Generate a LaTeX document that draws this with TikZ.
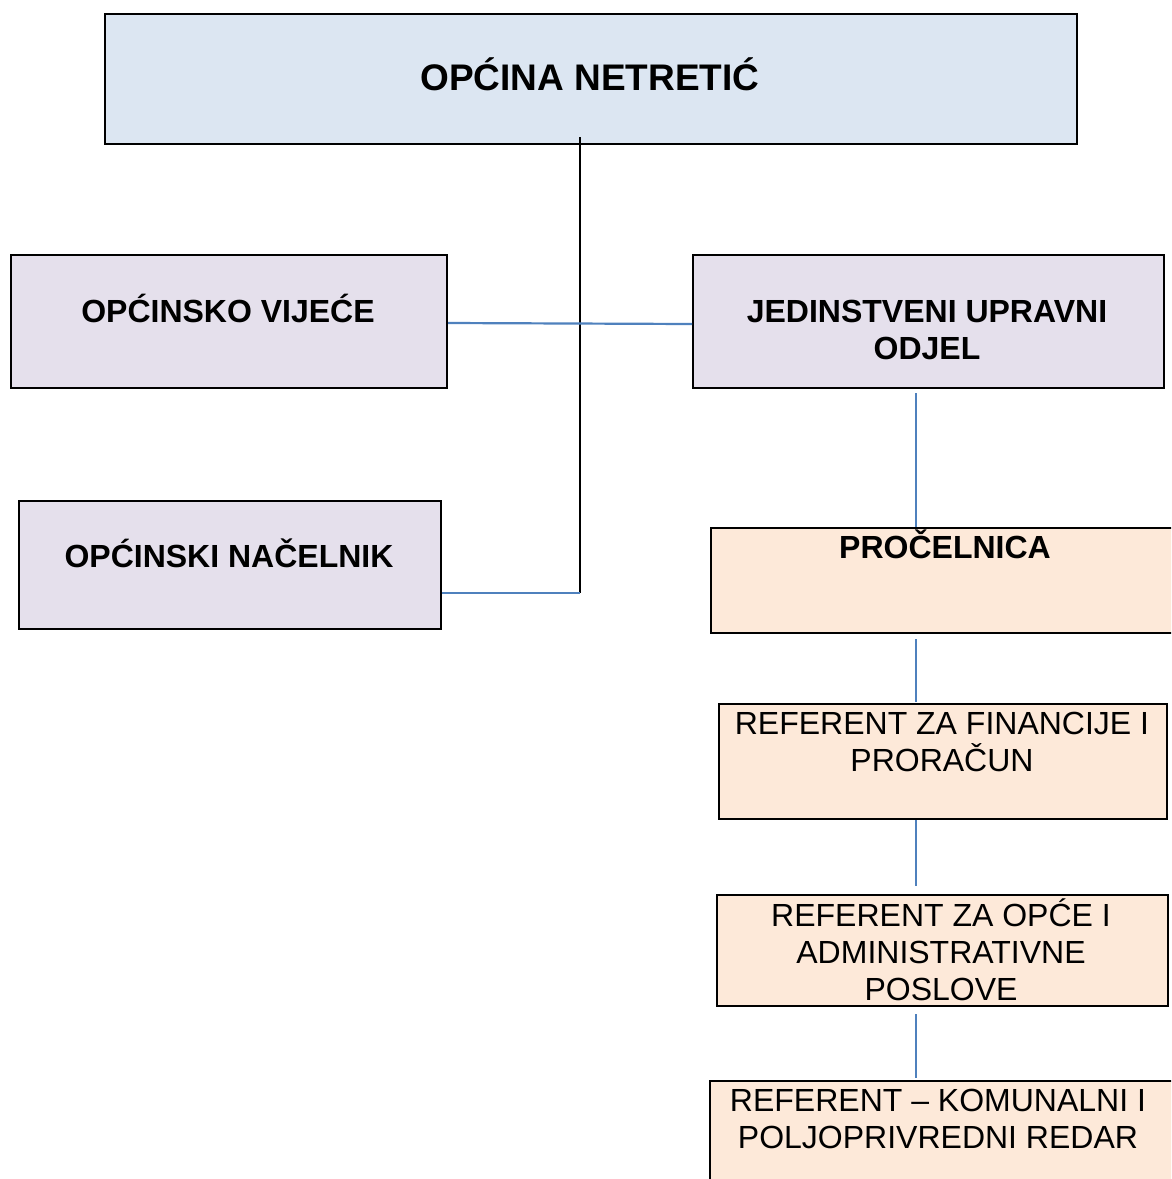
\documentclass[tikz,border=0pt]{standalone}
\usepackage{fontspec}
\setmainfont{Liberation Sans}
\definecolor{topfill}{HTML}{DCE6F2}
\definecolor{lilac}{HTML}{E5E0EC}
\definecolor{peach}{HTML}{FDE9D9}
\definecolor{lineblue}{HTML}{4F81BD}
\tikzset{
  box/.style={draw=black, line width=2pt, anchor=north west, inner sep=0pt},
  btxt/.style={font=\fontsize{32}{37}\selectfont\bfseries, align=center, inner sep=0pt},
  rtxt/.style={font=\fontsize{32}{37}\selectfont, align=center, inner sep=0pt},
  bline/.style={draw=lineblue, line width=2.2pt},
  kline/.style={draw=black, line width=2pt},
}
\begin{document}
\begin{tikzpicture}[x=1pt,y=-1pt]
\useasboundingbox (0,0) rectangle (1171,1179);
\clip (0,0) rectangle (1171,1179);
% boxes
\node[box, fill=topfill, minimum width=972pt, minimum height=130pt] (top) at (104,13) {};
\node[box, fill=lilac, minimum width=436pt, minimum height=133pt] (vij) at (10,254) {};
\node[box, fill=lilac, minimum width=471pt, minimum height=133pt] (juo) at (692,254) {};
\node[box, fill=lilac, minimum width=422pt, minimum height=128pt] (nac) at (18,500) {};
\node[box, fill=peach, minimum width=470pt, minimum height=105pt] (proc) at (710,527) {};
\node[box, fill=peach, minimum width=448pt, minimum height=115pt] (fin) at (718,703) {};
\node[box, fill=peach, minimum width=451pt, minimum height=111pt] (opc) at (716,894) {};
\node[box, fill=peach, minimum width=470pt, minimum height=120pt] (kom) at (709,1080) {};
% texts
\node[btxt, font=\fontsize{37}{44}\selectfont\bfseries, anchor=base] (ttop) at (590,90) {OPĆINA NETRETIĆ};
\node[btxt, anchor=base] (tvij) at (228,322) {OPĆINSKO VIJEĆE};
\node[btxt] (tjuo) at (927,330) {JEDINSTVENI UPRAVNI\\ODJEL};
\node[btxt, anchor=base] (tnac) at (229,567) {OPĆINSKI NAČELNIK};
\node[btxt, anchor=base] (tproc) at (945,558) {PROČELNICA};
\node[rtxt] (tfin) at (942,742) {REFERENT ZA FINANCIJE I\\PRORAČUN};
\node[rtxt] (topc) at (941,950) {REFERENT ZA OPĆE I\\ADMINISTRATIVNE\\POSLOVE};
\node[rtxt] (tkom) at (938,1119) {REFERENT – KOMUNALNI I\\POLJOPRIVREDNI REDAR};
% connectors
\coordinate (j1) at (580,593);
\coordinate (cx) at (916,0);
\draw[kline] ([yshift=8pt]top.south -| j1) -- (j1);
\draw[bline] (j1) -- (nac.east |- j1);
\draw[bline] (vij.east |- 0,323) -- (juo.west |- 0,324);
\draw[bline] (juo.south -| cx) ++(0,4) -- (proc.north -| cx);
\draw[bline] (proc.south -| cx) ++(0,5) -- ([yshift=1pt]fin.north -| cx);
\draw[bline] (fin.south -| cx) -- ([yshift=8pt]opc.north -| cx);
\draw[bline] (opc.south -| cx) ++(0,7) -- ([yshift=2pt]kom.north -| cx);
\end{tikzpicture}
\end{document}
